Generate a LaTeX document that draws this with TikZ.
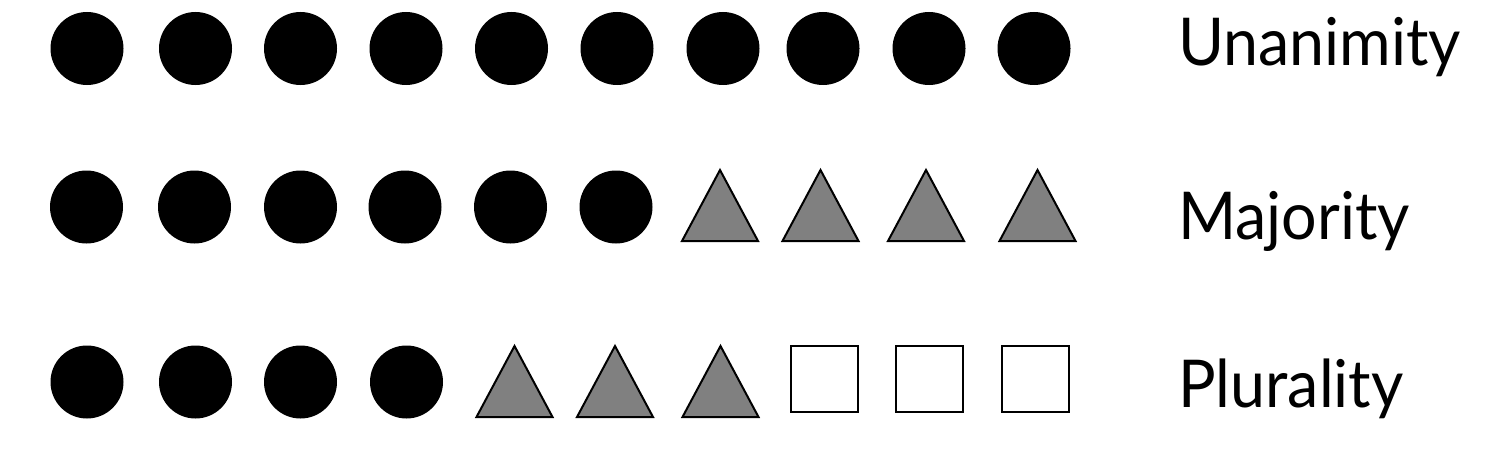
\documentclass[tikz,border=0pt]{standalone}
\usepackage{fontspec}
\setmainfont{Lato}
\begin{document}
\begin{tikzpicture}[x=1pt,y=-1pt,
  dot/.style={fill=black},
  tri/.style={fill={rgb,255:red,128;green,128;blue,128},draw=black,line width=2pt,line join=miter},
  sq/.style={fill=white,draw=black,line width=2pt},
  lab/.style={anchor=base west,inner sep=0pt,font=\fontsize{66}{70}\selectfont}]
\useasboundingbox (0,0) rectangle (1498,452);
% row 1
\foreach \cx in {87,195.5,300.5,406,511.5,617,723,823,929,1034}
  \fill[dot] (\cx,48.5) circle[radius=36.5];
% row 2
\foreach \cx in {86.5,194.5,300.5,405,510.5,616}
  \fill[dot] (\cx,207) circle[radius=36.5];
\foreach \cx in {720,820.5,926,1037.5}
  \draw[tri] (\cx-38,241) -- (\cx,170) -- (\cx+38,241) -- cycle;
% row 3
\foreach \cx in {87,195.5,300.5,406.5}
  \fill[dot] (\cx,382) circle[radius=36.5];
\foreach \cx in {514.5,615,720.5}
  \draw[tri] (\cx-38,417) -- (\cx,346) -- (\cx+38,417) -- cycle;
\foreach \lx in {790,895,1001}
  \draw[sq] (\lx+1,346) rectangle (\lx+68,412);
% labels
\node[lab] (u) at (1178,66) {\scalebox{0.95}[1]{Unanimity}};
\node[lab] (m) at (1178,239) {\scalebox{0.95}[1]{Majority}};
\node[lab] (p) at (1178,407) {\scalebox{0.95}[1]{Plurality}};
\end{tikzpicture}
\end{document}
